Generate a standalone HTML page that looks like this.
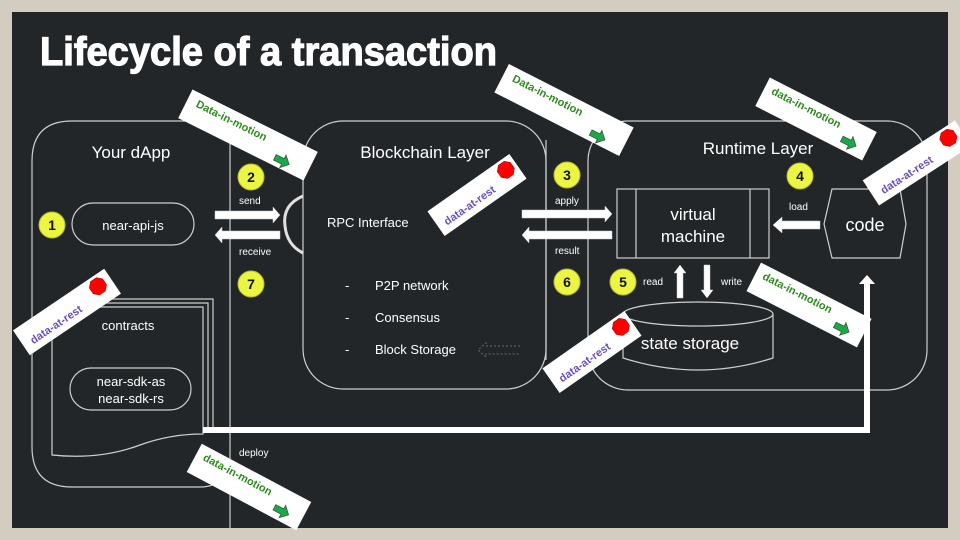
<!DOCTYPE html>
<html><head><meta charset="utf-8"><style>
html,body{margin:0;padding:0;background:#d3cdc1;}
svg{display:block;}
text{font-family:"Liberation Sans",sans-serif;}
</style></head><body>
<svg width="960" height="540" viewBox="0 0 960 540" xmlns="http://www.w3.org/2000/svg">
<defs>
<g id="garrow"><polygon points="0,-3 9,-3 9,-7 16,0 9,7 9,3 0,3" fill="#1aa84a" stroke="#3a5a3a" stroke-width="0.8"/></g>
<g id="oct"><polygon points="-3.5,-8 3.5,-8 8,-3.5 8,3.5 3.5,8 -3.5,8 -8,3.5 -8,-3.5" fill="#ff0000" stroke="#b00" stroke-width="0.6"/></g>
</defs>
<rect x="0" y="0" width="960" height="540" fill="#d3cdc1"/>
<rect x="12" y="12" width="936" height="516" fill="#232629"/>
<text x="40" y="65" font-size="40" font-weight="bold" fill="#fff" stroke="#fff" stroke-width="1.2" textLength="457" lengthAdjust="spacingAndGlyphs">Lifecycle of a transaction</text>

<g fill="none" stroke="#cfcfcf" stroke-width="1.2">
<!-- dApp -->
<path d="M72,121 L230,121 M32,161 Q32,121 72,121 M32,161 L32,447 Q32,487 72,487 L200,487 Q215,487 222,478"/>
<line x1="230" y1="140" x2="230" y2="528"/>
<!-- blockchain -->
<rect x="303" y="121" width="243" height="268" rx="40"/>
<line x1="546" y1="140" x2="546" y2="360"/>
<!-- runtime -->
<rect x="588" y="121" width="339" height="269" rx="40"/>
<!-- docs -->
<path d="M62,299 L213,299 L213,430 M57,303 L208,303 L208,430"/>
<path d="M52,307 L203,307 L203,434 Q170,434 140,445 Q100,460 52,455 Z" fill="#232629"/>
<!-- pills -->
<rect x="72" y="203" width="122" height="42" rx="21"/>
<rect x="70" y="368" width="121" height="42" rx="21"/>
<!-- arc -->
<path d="M303,196 Q282,205 285,226 Q287,245 303,253" stroke="#e0e0e0" stroke-width="3"/>
<!-- VM -->
<rect x="617" y="189" width="152" height="69"/>
<line x1="636" y1="189" x2="636" y2="258"/><line x1="750" y1="189" x2="750" y2="258"/>
<!-- code -->
<polygon points="832,189 900,189 906,224 900,258 832,258 824,224"/>
<!-- cylinder -->
<path d="M623,314 L623,358 Q698,382 773,358 L773,314"/>
<ellipse cx="698" cy="314" rx="75" ry="12"/>
</g>

<!-- dotted arrow -->
<g stroke="#666" stroke-width="1" stroke-dasharray="2,2" fill="none">
<path d="M520,346 L486,346 L486,343 L478,350 L486,357 L486,354 L520,354"/>
</g>

<!-- white thick arrows -->
<g fill="#fff" stroke="#ccc" stroke-width="0.5">
<polygon points="215,211 273,211 273,207 280,215 273,223 273,219 215,219"/>
<polygon points="280,231 222,231 222,227 215,235 222,243 222,239 280,239"/>
<polygon points="522,210 605,210 605,206 612,214 605,222 605,218 522,218"/>
<polygon points="612,231 529,231 529,227 522,235 529,243 529,239 612,239"/>
<polygon points="820,221 782,221 782,217 773,225 782,233 782,229 820,229"/>
<polygon points="677,298 677,273 674,273 680,265 686,273 683,273 683,298"/>
<polygon points="704,265 710,265 710,290 713,290 707,298 701,290 704,290"/>
<path d="M203,427 L864,427 L864,284 L859,284 L867,275 L875,284 L870,284 L870,433 L203,433 Z" stroke="none"/>
</g>

<!-- circles -->
<g fill="#ecf542" stroke="#b8bd2a" stroke-width="1">
<circle cx="52" cy="225" r="13"/><circle cx="251" cy="177" r="13"/><circle cx="251" cy="284" r="13"/>
<circle cx="567" cy="175" r="13"/><circle cx="567" cy="282" r="13"/><circle cx="623" cy="282" r="13"/>
<circle cx="800" cy="176" r="13"/>
</g>
<g font-size="14" font-weight="bold" fill="#111" text-anchor="middle">
<text x="52" y="230">1</text><text x="251" y="182">2</text><text x="251" y="289">7</text>
<text x="567" y="180">3</text><text x="567" y="287">6</text><text x="623" y="287">5</text><text x="800" y="181">4</text>
</g>

<!-- texts -->
<g fill="#fff">
<text x="131" y="158" font-size="17" text-anchor="middle">Your dApp</text>
<text x="133" y="230" font-size="13" text-anchor="middle">near-api-js</text>
<text x="128" y="330" font-size="13" text-anchor="middle">contracts</text>
<text x="131" y="386" font-size="13" text-anchor="middle">near-sdk-as</text>
<text x="131" y="403" font-size="13" text-anchor="middle">near-sdk-rs</text>
<text x="239" y="204" font-size="10">send</text>
<text x="239" y="255" font-size="10">receive</text>
<text x="239" y="456" font-size="10">deploy</text>
<text x="425" y="158" font-size="17" text-anchor="middle">Blockchain Layer</text>
<text x="327" y="227" font-size="13">RPC Interface</text>
<text x="345" y="290" font-size="13">-</text><text x="375" y="290" font-size="13">P2P network</text>
<text x="345" y="322" font-size="13">-</text><text x="375" y="322" font-size="13">Consensus</text>
<text x="345" y="354" font-size="13">-</text><text x="375" y="354" font-size="13">Block Storage</text>
<text x="555" y="204" font-size="10">apply</text>
<text x="555" y="254" font-size="10">result</text>
<text x="758" y="154" font-size="17" text-anchor="middle">Runtime Layer</text>
<text x="693" y="220" font-size="17" text-anchor="middle">virtual</text>
<text x="693" y="242" font-size="17" text-anchor="middle">machine</text>
<text x="865" y="231" font-size="18" text-anchor="middle">code</text>
<text x="789" y="210" font-size="10">load</text>
<text x="643" y="285" font-size="10">read</text>
<text x="721" y="285" font-size="10">write</text>
<text x="690" y="349" font-size="17" text-anchor="middle">state storage</text>
</g>

<!-- motion labels -->
<g font-size="11" font-weight="bold" fill="#2e8b1e">
<g transform="translate(248,135) rotate(26.5)"><rect x="-70" y="-16" width="140" height="32" fill="#fff"/><text x="-60" y="-2">Data-in-motion</text><use href="#garrow" x="34" y="8"/></g>
<g transform="translate(564,110) rotate(27)"><rect x="-70" y="-16" width="140" height="32" fill="#fff"/><text x="-60" y="-2">Data-in-motion</text><use href="#garrow" x="34" y="8"/></g>
<g transform="translate(816,119) rotate(27)"><rect x="-60" y="-16" width="120" height="32" fill="#fff"/><text x="-52" y="-2">data-in-motion</text><use href="#garrow" x="32" y="6"/></g>
<g transform="translate(809,305) rotate(27)"><rect x="-62" y="-16" width="124" height="32" fill="#fff"/><text x="-54" y="-2">data-in-motion</text><use href="#garrow" x="32" y="6"/></g>
<g transform="translate(249,487) rotate(28)"><rect x="-62" y="-16" width="124" height="32" fill="#fff"/><text x="-54" y="-2">data-in-motion</text><use href="#garrow" x="32" y="6"/></g>
</g>
<!-- rest labels -->
<g font-size="11" font-weight="bold" fill="#6a4fc0">
<g transform="translate(477,195) rotate(-35)"><rect x="-50" y="-15" width="100" height="30" fill="#fff"/><text x="-42" y="8">data-at-rest</text><use href="#oct" x="38" y="-4"/></g>
<g transform="translate(67,312) rotate(-34)"><rect x="-55" y="-15" width="110" height="30" fill="#fff"/><text x="-46" y="8">data-at-rest</text><use href="#oct" x="40" y="-4"/></g>
<g transform="translate(592,352) rotate(-35)"><rect x="-50" y="-15" width="100" height="30" fill="#fff"/><text x="-42" y="8">data-at-rest</text><use href="#oct" x="38" y="-4"/></g>
<g transform="translate(917,163) rotate(-33)"><rect x="-55" y="-15" width="110" height="30" fill="#fff"/><text x="-45" y="8">data-at-rest</text><use href="#oct" x="40" y="-4"/></g>
</g>
</svg>
</body></html>
